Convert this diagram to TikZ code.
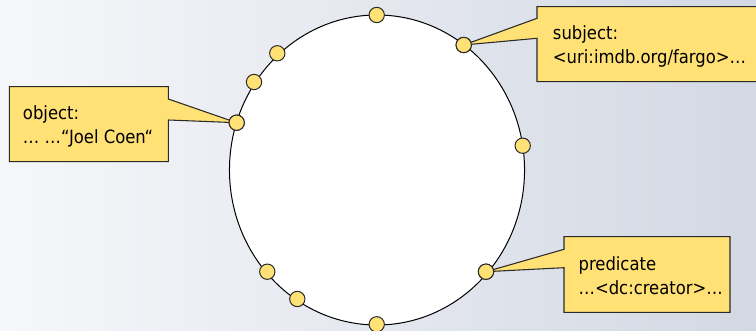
\documentclass[tikz,border=0pt]{standalone}
\usepackage{fontspec}
\setmainfont{DejaVu Sans Condensed}
\usetikzlibrary{shapes.geometric}
\definecolor{bgL}{HTML}{F6F7FA}
\definecolor{bgR}{HTML}{D3D8E3}
\definecolor{callY}{HTML}{FFE175}
\definecolor{edge}{HTML}{2A2A2A}
\tikzset{
  callout/.style={fill=callY, draw=edge, line width=0.8pt, line join=miter},
  dot/.style={circle, fill=callY, draw=edge, line width=0.75pt, minimum size=11.5pt, inner sep=0pt},
  label/.style={anchor=base west, align=left, inner sep=0pt, font=\fontsize{13.7pt}{18pt}\selectfont, text=black},
}
\begin{document}
\begin{tikzpicture}[x=0.75pt,y=-0.75pt]
\useasboundingbox (0,0) rectangle (756,331);
\begin{scope}
\clip (0,0) rectangle (756,331);
\shade[left color=bgL, right color=bgR] (0,0) rectangle (756,331);
% ellipse
\node[ellipse, draw=black, fill=white, line width=0.75pt, minimum width=221.3pt, minimum height=232.5pt, inner sep=0pt] (ring) at (377,170) {};
% dots
\node[dot] (d1) at (376.7,15) {};
\node[dot] (d2) at (463.7,45) {};
\node[dot] (d3) at (522.7,145.7) {};
\node[dot] (d4) at (486,271.7) {};
\node[dot] (d5) at (376.7,324.3) {};
\node[dot] (d6) at (297.3,299) {};
\node[dot] (d7) at (267.3,271.7) {};
\node[dot] (d8) at (236.7,122.7) {};
\node[dot] (d9) at (254,82) {};
\node[dot] (d10) at (277.3,53.3) {};
% callouts
\draw[callout] (9.3,86.7) -- (168.3,86.7) -- (168.3,99) -- (d8.center) -- (168.3,120) -- (168.3,161.7) -- (9.3,161.7) -- cycle;
\draw[callout] (537,6.7) -- (762,6.7) -- (762,81.7) -- (537,81.7) -- (537,38.3) -- (d2.center) -- (537,18.3) -- cycle;
\draw[callout] (564,236.7) -- (730,236.7) -- (730,312.3) -- (564,312.3) -- (564,267.7) -- (d4.center) -- (564,249.3) -- cycle;
% redraw dots on top
\foreach \p in {d2,d4,d8}{\node[dot] at (\p) {};}
% texts (anchored at the baseline of the last line)
\node[label] (tobj) at (22.7,144) {object:\\… …“Joel Coen“};
\node[label] (tsub) at (552.7,64) {subject:\\<uri:imdb.org/fargo>…};
\node[label] (tpred) at (578.3,294) {predicate\\…<dc:creator>…};
\end{scope}
\end{tikzpicture}
\end{document}
